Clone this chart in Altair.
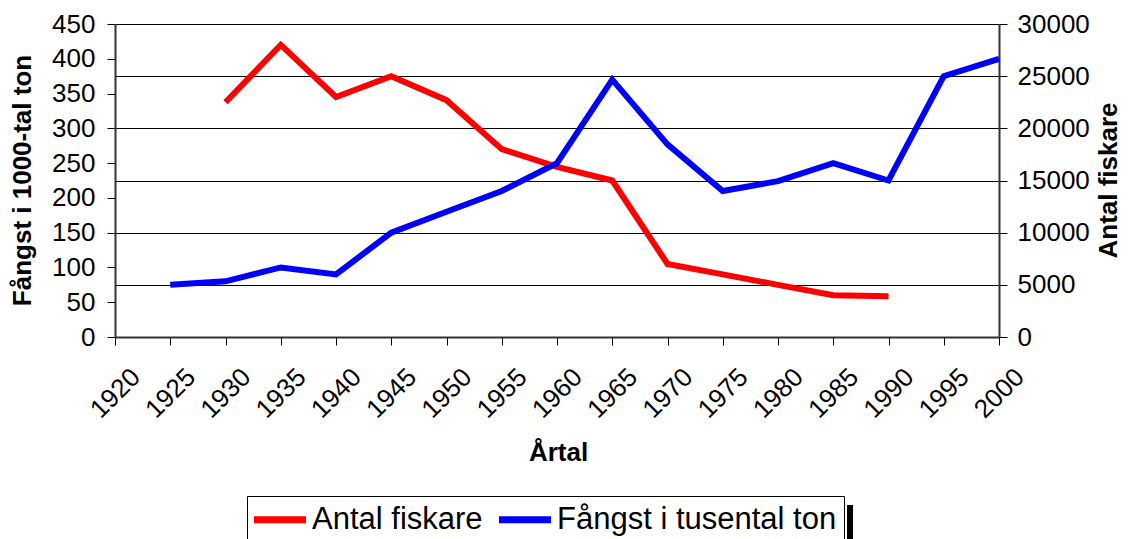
import altair as alt
import pandas as pd

years = [1920, 1925, 1930, 1935, 1940, 1945, 1950, 1955, 1960, 1965, 1970, 1975, 1980, 1985, 1990, 1995, 2000]
fangst = [None, 75, 80, 100, 90, 150, 180, 210, 250, 370, 277, 210, 224, 250, 225, 375, 400]
fiskare = [None, None, 22500, 28000, 23000, 25000, 22700, 18000, 16300, 15000, 7000, 6000, 5000, 4000, 3900, None, None]

s_fisk = "Antal fiskare"
s_fang = "Fångst i tusental ton"

rows = []
for y, f, a in zip(years, fangst, fiskare):
    if f is not None:
        rows.append({"year": y, "value": f, "series": s_fang})
    if a is not None:
        rows.append({"year": y, "value": a, "series": s_fisk})
df = pd.DataFrame(rows)

FONT = "Liberation Sans"

color = alt.Color(
    "series:N",
    scale=alt.Scale(domain=[s_fisk, s_fang], range=["#ff0000", "#0000ff"]),
    legend=alt.Legend(
        title=None,
        orient="none",
        legendX=132,
        legendY=472,
        direction="horizontal",
        symbolType="M-2,0L2,0",
        symbolSize=676,
        symbolStrokeWidth=7,
        symbolOffset=9.5,
        labelFontSize=31,
        labelFont=FONT,
        labelColor="black",
        labelOffset=15.5,
        columnPadding=2,
        padding=7,
        strokeColor="black",
        fillColor="white",
        labelLimit=600,
    ),
)

xenc = alt.X(
    "year:Q",
    scale=alt.Scale(domain=[1920, 2000], nice=False, zero=False),
    axis=alt.Axis(
        values=years,
        format="d",
        title="Årtal",
        labelAngle=-45,
        labelAlign="center",
        labelBaseline="middle",
        labelPadding=48,
        labelFontSize=26,
        labelFont=FONT,
        labelColor="black",
        tickSize=8,
        tickColor="black",
        domainColor="#333333",
        domainWidth=2,
        grid=False,
        titleFontSize=26,
        titleFont=FONT,
        titleFontWeight="bold",
        titleColor="black",
        titleX=443,
        titleY=115,
        titleAlign="center",
        titleBaseline="middle",
        labelOverlap=False,
    ),
)

red = alt.Chart(df).transform_filter(alt.datum.series == s_fisk).mark_line(strokeWidth=6).encode(
    x=xenc,
    y=alt.Y(
        "value:Q",
        scale=alt.Scale(domain=[0, 30000], nice=False),
        axis=alt.Axis(
            orient="right",
            values=[0, 5000, 10000, 15000, 20000, 25000, 30000],
            format="d",
            title="Antal fiskare",
            grid=True,
            gridColor="black",
            gridWidth=1,
            labelFontSize=26,
            labelFont=FONT,
            labelColor="black",
            labelPadding=10,
            tickSize=8,
            tickColor="black",
            domainColor="#333333",
            domainWidth=2,
            titleFontSize=26,
            titleFont=FONT,
            titleFontWeight="bold",
            titleColor="black",
            titleAngle=270,
            titleX=109,
            titleY=156,
            titleAlign="center",
            titleBaseline="middle",
        ),
    ),
    color=color,
)

blue = alt.Chart(df).transform_filter(alt.datum.series == s_fang).mark_line(strokeWidth=6).encode(
    x=xenc,
    y=alt.Y(
        "value:Q",
        scale=alt.Scale(domain=[0, 450], nice=False),
        axis=alt.Axis(
            orient="left",
            values=[0, 50, 100, 150, 200, 250, 300, 350, 400, 450],
            format="d",
            title="Fångst i 1000-tal ton",
            grid=False,
            labelFontSize=26,
            labelFont=FONT,
            labelColor="black",
            labelPadding=12,
            tickSize=8,
            tickColor="black",
            domainColor="#333333",
            domainWidth=2,
            titleFontSize=26,
            titleFont=FONT,
            titleFontWeight="bold",
            titleColor="black",
            titleAngle=270,
            titleX=-93,
            titleY=156,
            titleAlign="center",
            titleBaseline="middle",
        ),
    ),
    color=color,
)

shadow = alt.Chart(df).mark_rule(color="black", strokeWidth=6).encode(
    x=alt.value(735), y=alt.value(481), y2=alt.value(530)
)

chart = (
    alt.layer(red, blue, shadow)
    .resolve_scale(y="independent")
    .properties(
        width=884,
        height=313,
        autosize=alt.AutoSizeParams(type="none"),
        padding={"left": 107, "top": 16, "right": 124, "bottom": 202},
    )
    .configure_view(strokeWidth=0)
)

chart.save("out.html", embed_options={"renderer": "svg", "actions": False})
